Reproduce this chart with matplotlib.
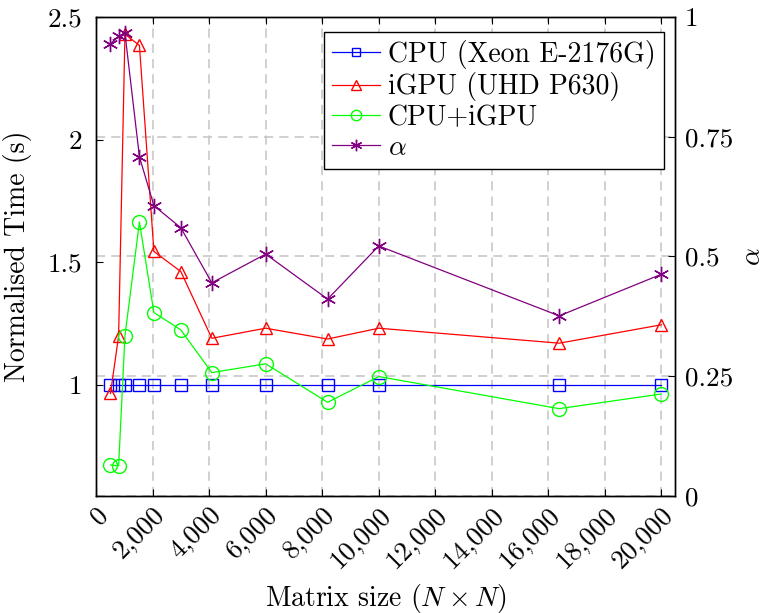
import matplotlib
matplotlib.use("Agg")
import matplotlib.pyplot as plt
from matplotlib.lines import Line2D
from matplotlib.ticker import FixedLocator, FixedFormatter

plt.rcParams['font.family'] = 'serif'
plt.rcParams['font.serif'] = ['cmr10', 'DejaVu Serif']
plt.rcParams['mathtext.fontset'] = 'cm'
plt.rcParams['axes.formatter.use_mathtext'] = True

# ---- data ----
matrix_size = [512, 800, 1024, 1536, 2048, 3000, 4096, 6000, 8192, 10000, 16384, 20000]
cpu_time = [1, 1, 1, 1, 1, 1, 1, 1, 1, 1, 1, 1]
igpu_time = [0.965, 1.20, 2.43, 2.384, 1.544, 1.462, 1.19, 1.231, 1.187, 1.231, 1.17, 1.245]
hybrid_time = [0.673, 0.67, 1.20, 1.664, 1.295, 1.224, 1.05, 1.086, 0.929, 1.034, 0.903, 0.963]
alpha = [0.944, 0.960, 0.966, 0.708, 0.606, 0.560, 0.445, 0.505, 0.411, 0.522, 0.376, 0.463]

x_ticks = [0, 2000, 4000, 6000, 8000, 10000, 12000, 14000, 16000, 18000, 20000]
x_tick_labels = ['0', '2,000', '4,000', '6,000', '8,000', '10,000', '12,000',
                 '14,000', '16,000', '18,000', '20,000']
left_ticks = [1, 1.5, 2, 2.5]
left_tick_labels = ['1', '1.5', '2', '2.5']
right_ticks = [0, 0.25, 0.5, 0.75, 1]
right_tick_labels = ['0', '0.25', '0.5', '0.75', '1']

labels = ['CPU (Xeon E-2176G)', 'iGPU (UHD P630)', 'CPU+iGPU', r'$\alpha$']

FS = 19.5
LFS = 20
fig = plt.figure(figsize=(7.65, 6.13), dpi=100)
ax = fig.add_axes([0.1255, 0.1909, 0.7569, 0.7814])
ax2 = ax.twinx()

ax.set_xlim(0, 20480)
ax.set_ylim(0.547, 2.5)
ax2.set_ylim(0, 1)

grid_kw = dict(color='#c4c4c4', lw=1.1, dashes=(6, 4), zorder=0.5)
# vertical grid from x ticks
for t in x_ticks:
    ax.axvline(t, **grid_kw)
# horizontal grid from right axis ticks (axes fraction == right value)
for t in right_ticks:
    ax.add_line(Line2D([0, 1], [t, t], transform=ax.transAxes, **grid_kw))

lw = 0.9
ms_kw = dict(markerfacecolor='none')
h1, = ax.plot(matrix_size, cpu_time, color='#0000ff', lw=lw, marker='s', ms=8.5,
              mew=1.0, **ms_kw, zorder=3)
h2, = ax.plot(matrix_size, igpu_time, color='#ff0000', lw=lw, marker='^', ms=9,
              mew=1.0, **ms_kw, zorder=3)
h3, = ax.plot(matrix_size, hybrid_time, color='#00ff00', lw=lw, marker='o', ms=10,
              mew=1.0, **ms_kw, zorder=3)
h4, = ax2.plot(matrix_size, alpha, color='#800080', lw=lw, marker=(6, 2, 0), ms=11,
               mew=1.0, zorder=3)

ax.xaxis.set_major_locator(FixedLocator(x_ticks))
ax.xaxis.set_major_formatter(FixedFormatter(x_tick_labels))
ax.yaxis.set_major_locator(FixedLocator(left_ticks))
ax.yaxis.set_major_formatter(FixedFormatter(left_tick_labels))
ax2.yaxis.set_major_locator(FixedLocator(right_ticks))
ax2.yaxis.set_major_formatter(FixedFormatter(right_tick_labels))

ax.tick_params(axis='x', direction='in', length=5, width=0.8, top=True,
               labelsize=FS, pad=5)
ax.tick_params(axis='y', direction='in', length=5, width=0.8, labelsize=FS, pad=10)
ax2.tick_params(axis='y', direction='in', length=5, width=0.8, labelsize=FS, pad=7)
for lab in ax.get_xticklabels():
    lab.set_rotation(45)
    lab.set_ha('right')
    lab.set_va('top')
    lab.set_rotation_mode('anchor')

for sp in list(ax.spines.values()) + list(ax2.spines.values()):
    sp.set_linewidth(1.0)

ax.set_xlabel(r'Matrix size $(N \times N)$', fontsize=LFS, va='center', ha='center')
ax.xaxis.set_label_coords(0.5, -0.213)
ax.set_ylabel('Normalised Time (s)', fontsize=LFS, va='center', ha='center')
ax.yaxis.set_label_coords(-0.135, 0.5)
ax2.set_ylabel(r'$\alpha$', fontsize=LFS, va='center', ha='center')
ax2.yaxis.set_label_coords(1.134, 0.5)

leg = ax2.legend([h1, h2, h3, h4], labels, loc='upper right',
                 bbox_to_anchor=(0.981, 0.969), borderaxespad=0,
                 fontsize=LFS, fancybox=False, framealpha=1, edgecolor='black',
                 handlelength=1.7, handletextpad=0.3, labelspacing=0.12,
                 borderpad=0.3, markerscale=0.75)
leg.get_frame().set_linewidth(1.0)

fig.savefig('out.png', dpi=100)
